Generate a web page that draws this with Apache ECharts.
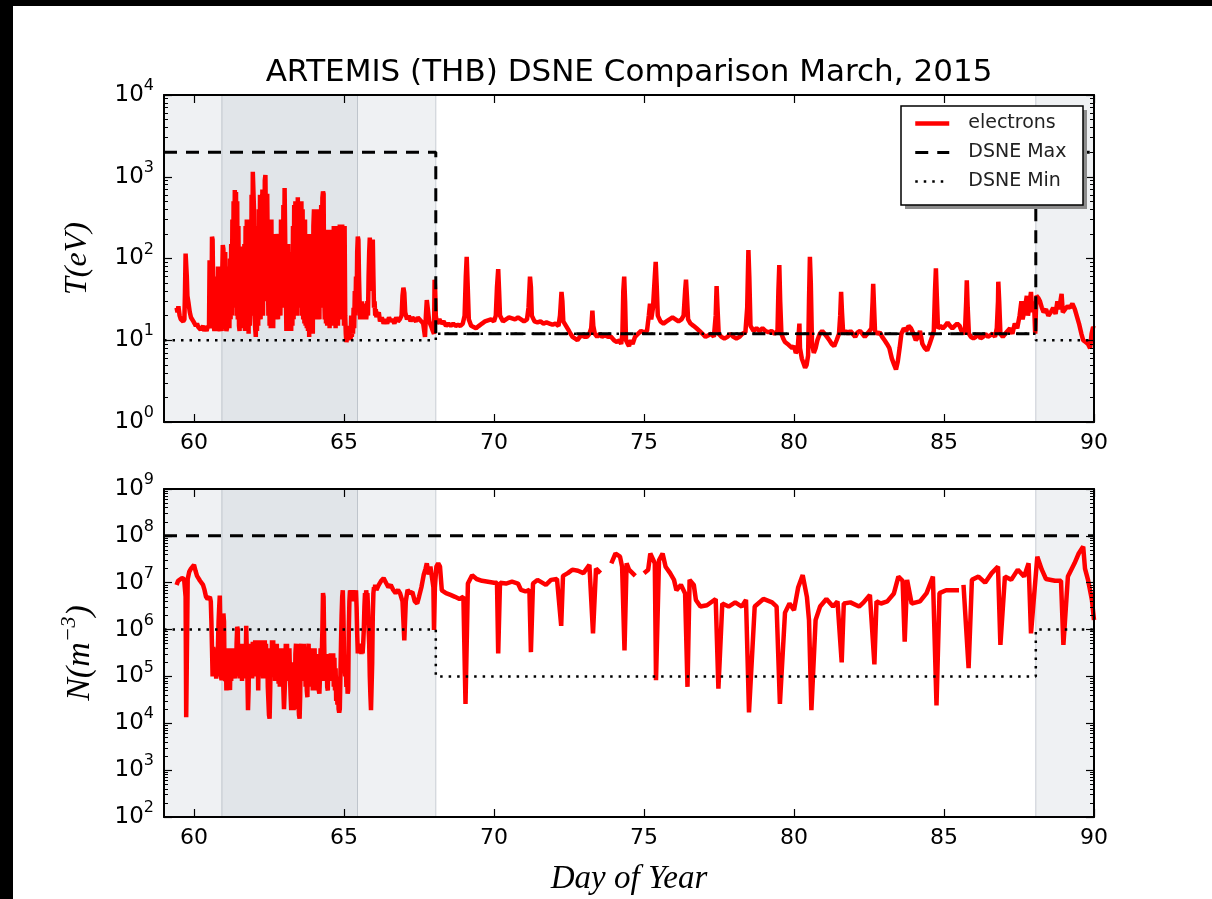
<!DOCTYPE html>
<html>
<head>
<meta charset="utf-8">
<script src="https://cdn.jsdelivr.net/npm/echarts@6/dist/echarts.min.js"></script>
<style>
html,body{margin:0;padding:0;background:#fff;}
#chart{width:1212px;height:899px;}
</style>
</head>
<body>
<div id="chart"></div>
<script>
// ---------- data ----------
const titleText = 'ARTEMIS (THB) DSNE Comparison March, 2015';
const xTicks = [60, 65, 70, 75, 80, 85, 90];
const xRange = [59, 90];
const tRange = [1, 1e4];
const nRange = [1e2, 1e9];
const minorMult = [2, 3, 4, 5, 6, 7, 8, 9];

// shaded intervals (day ranges)
const lightBands = [[59, 68.06], [88.06, 90]];
const darkBands = [[60.93, 65.45]];

// DSNE limits, temperature (eV)
const tMaxDay = [59, 68.06, 68.06, 88.06, 88.06, 90];
const tMaxVal = [2000, 2000, 12, 12, 2000, 2000];
const tMinDay = [59, 68.06, 68.06, 88.06, 88.06, 90];
const tMinVal = [10, 10, 12, 12, 10, 10];
// DSNE limits, density (m^-3)
const nMaxDay = [59, 90];
const nMaxVal = [1e8, 1e8];
const nMinDay = [59, 68.06, 68.06, 88.06, 88.06, 90];
const nMinVal = [1e6, 1e6, 1e5, 1e5, 1e6, 1e6];

// electron temperature [day, eV]
const electronT = [
[59.42,25],[59.45,22],[59.48,26],[59.52,20],[59.56,18],[59.60,19],[59.64,17],[59.68,18],[59.70,40],[59.72,115],
[59.74,110],[59.76,60],[59.78,35],[59.82,28],[59.86,22],[59.90,19],[59.94,18],[59.98,17],[60.02,16],[60.06,15],
[60.10,16],[60.14,14.5],[60.18,15],[60.22,13.5],[60.26,14],[60.30,15],[60.34,13],[60.38,14],[60.42,13],[60.46,15],
[60.50,14],[60.52,95],[60.54,90],[60.56,20],[60.58,14],[60.60,185],[60.62,170],[60.64,40],[60.66,15],[60.68,13],
[60.70,30],[60.72,14],[60.74,60],[60.76,15],[60.78,13],[60.80,80],[60.82,70],[60.84,14],[60.86,13],[60.88,20],
[60.90,14],[60.92,13],[60.94,60],[60.96,146],[60.98,130],[61.00,16],[61.02,100],[61.04,120],[61.06,15],[61.08,13],
[61.10,14],[61.12,60],[61.14,15],[61.16,80],[61.18,14],[61.20,100],[61.22,18],[61.24,150],[61.26,20],[61.28,300],
[61.30,25],[61.32,500],[61.34,30],[61.36,690],[61.38,200],[61.40,650],[61.42,20],[61.44,500],[61.46,18],[61.48,250],
[61.50,15],[61.52,13],[61.54,100],[61.56,14],[61.58,120],[61.60,18],[61.62,140],[61.64,130],[61.66,15],[61.68,150],
[61.70,13],[61.72,250],[61.74,16],[61.76,300],[61.78,14],[61.80,200],[61.82,12],[61.84,150],[61.86,15],[61.88,300],
[61.90,20],[61.92,600],[61.94,30],[61.96,1150],[61.98,1100],[62.00,400],[62.02,20],[62.04,14],[62.06,11],[62.08,100],
[62.10,13],[62.12,250],[62.14,15],[62.16,400],[62.18,20],[62.20,600],[62.22,18],[62.24,300],[62.26,25],[62.28,700],
[62.30,20],[62.32,500],[62.34,30],[62.36,900],[62.38,1050],[62.40,1000],[62.42,40],[62.44,620],[62.46,600],[62.48,20],
[62.50,300],[62.52,15],[62.54,250],[62.56,14],[62.58,300],[62.60,16],[62.62,200],[62.64,14],[62.66,150],[62.68,18],
[62.70,120],[62.72,18],[62.74,200],[62.76,20],[62.78,180],[62.80,18],[62.82,200],[62.84,25],[62.86,160],[62.88,20],
[62.90,300],[62.92,25],[62.94,300],[62.96,30],[62.98,450],[63.00,40],[63.02,730],[63.04,700],[63.06,40],[63.08,13],
[63.10,80],[63.12,13],[63.14,150],[63.16,14],[63.18,120],[63.20,13],[63.22,60],[63.24,13],[63.26,120],[63.28,15],
[63.30,250],[63.32,18],[63.34,450],[63.36,25],[63.38,500],[63.40,30],[63.42,350],[63.44,20],[63.46,560],[63.48,40],
[63.50,430],[63.52,25],[63.54,350],[63.56,30],[63.58,500],[63.60,20],[63.62,400],[63.64,18],[63.66,250],[63.68,16],
[63.70,300],[63.72,15],[63.74,200],[63.76,14],[63.78,150],[63.80,13],[63.82,100],[63.84,11],[63.86,200],[63.88,12],
[63.90,180],[63.92,13],[63.94,120],[63.96,12],[63.98,250],[64.00,400],[64.02,20],[64.04,300],[64.06,18],[64.08,300],
[64.10,25],[64.12,400],[64.14,20],[64.16,250],[64.18,18],[64.20,350],[64.22,25],[64.24,450],[64.26,40],[64.28,550],
[64.30,660],[64.32,620],[64.34,40],[64.36,18],[64.38,225],[64.40,16],[64.42,200],[64.44,15],[64.46,225],[64.48,18],
[64.50,220],[64.52,14],[64.54,180],[64.56,16],[64.58,225],[64.60,15],[64.62,200],[64.64,20],[64.66,250],[64.68,16],
[64.70,200],[64.72,14],[64.74,220],[64.76,18],[64.78,250],[64.80,15],[64.82,200],[64.84,20],[64.86,260],[64.88,25],
[64.90,250],[64.92,18],[64.94,260],[64.96,22],[64.98,240],[65.00,15],[65.02,250],[65.04,20],[65.06,12],[65.08,9.5],
[65.10,9.3],[65.12,12],[65.14,10],[65.16,15],[65.18,11],[65.20,13],[65.22,10],[65.24,20],[65.26,11],[65.28,14],
[65.30,12],[65.32,25],[65.34,14],[65.36,40],[65.38,20],[65.40,60],[65.42,25],[65.44,120],[65.46,185],[65.48,170],
[65.50,60],[65.52,30],[65.54,18],[65.56,25],[65.58,20],[65.60,30],[65.62,18],[65.64,25],[65.66,20],[65.68,28],
[65.70,19],[65.72,24],[65.74,18],[65.76,22],[65.78,30],[65.80,20],[65.82,60],[65.84,120],[65.86,180],[65.88,100],
[65.90,160],[65.92,40],[65.94,150],[65.96,170],[65.98,60],[66.00,25],[66.02,30],[66.04,20],[66.06,24],[66.08,19],
[66.10,22],[66.12,20],[66.16,22],[66.20,17],[66.26,19],[66.32,16],[66.38,18],[66.44,16],[66.50,19],[66.56,17],
[66.62,18],[66.68,16],[66.74,19],[66.80,17],[66.86,18],[66.92,20],[66.95,35],[66.98,44],[67.01,38],[67.04,22],
[67.10,18],[67.16,20],[67.22,17],[67.28,19],[67.34,18],[67.40,17],[67.46,19],[67.52,18],[67.58,17],[67.64,16],
[67.70,11],[67.73,20],[67.76,31],[67.79,25],[67.84,17],[67.90,15],[67.96,13],[68.00,12],[68.02,55],[68.04,40],
[68.06,20],[68.10,16],[68.14,17],[68.18,18],[68.25,16],[68.32,17],[68.40,15],[68.48,16],[68.56,15],[68.64,16],
[68.72,15],[68.80,15.5],[68.88,15],[68.96,16],[69.02,20],[69.06,60],[69.09,105],[69.12,50],[69.16,18],[69.24,15],
[69.32,14.5],[69.40,14],[69.50,15],[69.60,16],[69.70,17],[69.80,17.5],[69.90,18],[70.00,17],[70.06,20],[70.10,45],
[70.14,74],[70.17,40],[70.20,20],[70.30,17],[70.40,18],[70.50,19],[70.60,18.5],[70.70,18],[70.80,19],[70.90,18],
[71.00,17],[71.10,18],[71.15,25],[71.20,60],[71.23,45],[71.26,20],[71.35,17],[71.45,16.5],[71.55,17],[71.65,16],
[71.75,16.5],[71.85,16],[71.95,15.5],[72.05,16],[72.15,15],[72.20,20],[72.25,39],[72.28,30],[72.31,17],[72.40,15],
[72.50,13],[72.55,12],[72.62,11],[72.70,10.5],[72.78,10],[72.86,11],[72.94,11.5],[73.02,11],[73.10,11],[73.18,12],
[73.24,14],[73.28,23],[73.31,15],[73.36,12],[73.44,11],[73.52,12],[73.60,11],[73.70,11.5],[73.80,11],[73.90,11],
[74.00,10],[74.10,9.5],[74.18,10],[74.24,9],[74.28,12],[74.31,40],[74.34,60],[74.37,30],[74.40,10],[74.46,9],
[74.50,8.5],[74.56,10],[74.62,9],[74.70,11],[74.80,12],[74.90,13],[75.00,12.5],[75.10,13],[75.16,20],[75.20,28],
[75.24,18],[75.30,25],[75.36,60],[75.39,91],[75.42,50],[75.46,20],[75.55,17],[75.65,16],[75.75,17],[75.85,18],
[75.95,19],[76.05,18],[76.15,17],[76.25,18],[76.32,20],[76.37,40],[76.40,55],[76.43,35],[76.47,18],[76.55,16],
[76.65,15],[76.75,14],[76.85,13],[76.95,12],[77.05,11],[77.15,11.5],[77.25,12],[77.33,11],[77.39,20],[77.42,46],
[77.45,25],[77.49,12],[77.58,11],[77.68,10.5],[77.78,11],[77.88,12],[77.98,11],[78.08,10.5],[78.18,11],[78.28,12],
[78.38,12.5],[78.44,25],[78.48,127],[78.51,60],[78.55,15],[78.65,13],[78.75,14],[78.85,13],[78.95,14],[79.05,13],
[79.15,12.5],[79.25,13],[79.35,12],[79.45,13],[79.48,40],[79.51,83],[79.54,30],[79.58,12],[79.64,10.5],[79.70,9.5],
[79.76,10],[79.82,8.8],[79.88,9],[79.94,8],[80.00,8.5],[80.06,7],[80.12,7.5],[80.18,16],[80.20,8],[80.26,6],
[80.32,5.2],[80.37,4.6],[80.42,5],[80.47,6.5],[80.50,30],[80.53,105],[80.56,50],[80.60,9],[80.66,7],[80.72,8],
[80.78,10],[80.86,12],[80.94,13],[81.02,12],[81.10,11],[81.18,10],[81.26,9],[81.34,8.5],[81.42,10],[81.50,12],
[81.54,20],[81.57,39],[81.60,22],[81.64,12],[81.72,13],[81.80,12],[81.88,13],[81.96,12],[82.04,11],[82.12,12.5],
[82.20,13],[82.28,12],[82.36,11],[82.44,12],[82.52,13],[82.58,14],[82.62,30],[82.64,49],[82.67,25],[82.70,13],
[82.78,12],[82.86,12.5],[82.94,11],[83.02,10],[83.10,9],[83.18,8],[83.26,6],[83.34,5],[83.40,4.4],[83.46,5.5],
[83.52,8],[83.58,12],[83.66,14],[83.74,13],[83.82,15],[83.90,14],[83.98,12],[84.06,10],[84.14,11],[84.20,13],
[84.28,9],[84.36,8],[84.44,7.5],[84.52,9],[84.60,11],[84.66,13],[84.70,40],[84.73,76],[84.76,35],[84.80,14],
[84.88,15],[84.96,14],[85.04,15],[85.12,16.5],[85.20,15],[85.28,14],[85.36,15],[85.44,16],[85.52,15],[85.62,12],
[85.70,13],[85.74,30],[85.76,54],[85.79,25],[85.83,12],[85.90,11],[85.98,10.5],[86.06,11],[86.14,12],[86.22,10.5],
[86.30,11],[86.38,12],[86.46,11],[86.54,11.5],[86.62,12],[86.70,11],[86.76,14],[86.80,30],[86.81,52],[86.84,30],
[86.88,12],[86.96,11],[87.04,12],[87.12,13],[87.20,14],[87.28,12],[87.36,16],[87.44,14],[87.52,20],[87.58,30],
[87.62,18],[87.70,25],[87.76,35],[87.80,20],[87.86,30],[87.90,39],[87.94,22],[88.00,30],[88.04,12],[88.08,35],
[88.14,33],[88.20,30],[88.26,25],[88.32,22],[88.40,24],[88.48,20],[88.56,22],[88.64,25],[88.72,21],[88.78,30],
[88.84,24],[88.92,37],[88.96,22],[89.04,24],[89.12,26],[89.20,25],[89.28,28],[89.36,24],[89.42,23],[89.50,16],
[89.58,12],[89.64,10],[89.72,9.5],[89.80,9],[89.87,8],[89.92,12],[89.97,14.5],[90.00,14]
];

// electron density [day, m^-3]
const electronN = [
[59.42,8.9e6],[59.47,1.1e7],[59.53,1.2e7],[59.60,1.25e7],[59.67,1.2e7],[59.72,5e6],[59.74,1.35e4],[59.76,2e5],[59.79,1.2e7],[59.84,1.7e7],
[59.90,2e7],[59.95,2.2e7],[60.00,2.4e7],[60.05,1.8e7],[60.10,1.4e7],[60.15,1.35e7],[60.20,1.1e7],[60.25,1.2e7],[60.30,9e6],[60.35,7e6],
[60.40,5e6],[60.45,4.5e6],[60.50,4.3e6],[60.53,5e6],[60.56,4e6],[60.58,1.5e6],[60.60,4e5],[60.62,1e5],[60.64,4.3e5],[60.66,1e5],
[60.68,4e5],[60.70,1e5],[60.72,3e5],[60.74,9e4],[60.76,3e5],[60.78,1e5],[60.80,5e5],[60.82,1.5e6],[60.84,3e6],[60.86,5.3e6],
[60.88,1e6],[60.90,1e5],[60.92,8.3e4],[60.94,5e5],[60.96,1e6],[60.98,2.2e6],[61.00,1.5e6],[61.02,1e5],[61.04,8e4],[61.06,4e5],
[61.08,5e4],[61.10,3e5],[61.12,5.1e4],[61.14,3e5],[61.16,6e4],[61.18,4e5],[61.20,5.1e4],[61.22,3e5],[61.24,8e4],[61.26,4e5],
[61.28,1e5],[61.30,4e5],[61.32,1e5],[61.34,3e5],[61.36,9e4],[61.38,4e5],[61.40,1e5],[61.42,5e5],[61.44,1.15e6],[61.46,1e6],
[61.48,1e5],[61.50,4e5],[61.52,9e4],[61.54,5e5],[61.56,1e5],[61.58,4e5],[61.60,8e4],[61.62,5e5],[61.64,1e5],[61.66,4e5],
[61.68,9e4],[61.70,5e5],[61.72,1e5],[61.74,1.2e6],[61.76,1.1e6],[61.78,1e5],[61.80,1.9e4],[61.82,5e4],[61.84,4e5],[61.86,1e5],
[61.88,5e5],[61.90,1e5],[61.92,5e5],[61.94,9e4],[61.96,5.5e5],[61.98,1e5],[62.00,5.5e5],[62.02,1e5],[62.04,5.9e5],[62.06,1.2e5],
[62.08,5.5e5],[62.10,1e5],[62.12,5.9e5],[62.14,5e4],[62.16,5e5],[62.18,1e5],[62.20,5.5e5],[62.22,1.2e5],[62.24,5.9e5],[62.26,1e5],
[62.28,5.5e5],[62.30,9e4],[62.32,5.5e5],[62.34,1e5],[62.36,5.9e5],[62.38,9e4],[62.40,5e5],[62.42,1e5],[62.44,4e5],[62.46,6e4],
[62.48,3e4],[62.50,1.5e4],[62.52,1.26e4],[62.54,5e4],[62.56,4e5],[62.58,1e5],[62.60,5.9e5],[62.62,1e5],[62.64,5.9e5],[62.66,1e5],
[62.68,5e5],[62.70,8e4],[62.72,5e5],[62.74,9e4],[62.76,5e5],[62.78,8e4],[62.80,4e5],[62.82,7e4],[62.84,4e5],[62.86,6e4],
[62.88,4e5],[62.90,8e4],[62.92,4e5],[62.94,1e5],[62.96,3e5],[62.98,5e4],[63.00,2e4],[63.02,1.9e4],[63.04,1e5],[63.06,5e5],
[63.08,1e5],[63.10,5e5],[63.12,9e4],[63.14,4e5],[63.16,8e4],[63.18,4e5],[63.20,1e5],[63.22,4e4],[63.24,1.9e4],[63.26,1e5],
[63.28,2e4],[63.30,2e5],[63.32,1.9e4],[63.34,1e5],[63.36,2e4],[63.38,3e5],[63.40,5e5],[63.42,1e5],[63.44,5e5],[63.46,6e4],
[63.48,3e4],[63.50,1.5e4],[63.52,1.26e4],[63.54,4e4],[63.56,4e5],[63.58,5e5],[63.60,1e5],[63.62,5e5],[63.64,1e5],[63.66,5e5],
[63.68,8e4],[63.70,4e5],[63.72,6e4],[63.74,4e5],[63.76,5e4],[63.78,3.6e4],[63.80,3e5],[63.82,5e5],[63.84,8e4],[63.86,4e5],
[63.88,6e4],[63.90,4e5],[63.92,8e4],[63.94,4e5],[63.96,5e4],[63.98,4e5],[64.00,8e4],[64.02,4e5],[64.04,6e4],[64.06,3e5],
[64.08,5e4],[64.10,3e5],[64.12,5e4],[64.14,2e5],[64.16,5e4],[64.18,4.3e4],[64.20,1e5],[64.22,4e5],[64.24,8e4],[64.26,3e5],
[64.28,1e6],[64.30,6e6],[64.32,5e6],[64.34,5e5],[64.36,8e4],[64.38,3e5],[64.40,8e4],[64.42,3e5],[64.44,6e4],[64.46,5e4],
[64.48,2.5e5],[64.50,8e4],[64.52,3e5],[64.54,8e4],[64.56,3.1e5],[64.58,1e5],[64.60,3.1e5],[64.62,8e4],[64.64,3.1e5],[64.66,6e4],
[64.68,2.5e5],[64.70,5e4],[64.72,1.5e5],[64.74,3e4],[64.76,1e5],[64.78,2.5e4],[64.80,8e4],[64.82,2e4],[64.84,1.7e4],[64.86,2e4],
[64.88,1e5],[64.90,5e5],[64.92,2e6],[64.94,5e6],[64.96,6.9e6],[64.98,2e6],[65.00,3e5],[65.02,1.6e5],[65.04,1e5],[65.06,2e5],
[65.08,6e4],[65.10,1.5e5],[65.12,4.3e4],[65.14,5e4],[65.16,1e6],[65.18,4e6],[65.20,6.9e6],[65.22,5e6],[65.24,6.9e6],[65.26,4e6],
[65.28,6.9e6],[65.30,5e6],[65.32,6.9e6],[65.34,4e6],[65.36,6.5e6],[65.38,5e6],[65.40,6.9e6],[65.42,3e6],[65.44,8e5],[65.46,3.1e5],
[65.48,5e5],[65.50,3.1e5],[65.52,4e5],[65.54,3.1e5],[65.56,5e5],[65.58,3e5],[65.60,4e5],[65.62,3.1e5],[65.64,5e5],[65.66,1e6],
[65.68,3e6],[65.70,6e6],[65.72,4e6],[65.74,6.9e6],[65.76,5e6],[65.78,6e6],[65.80,3e6],[65.82,1e6],[65.84,5e5],[65.86,1e5],
[65.88,4e4],[65.90,1.9e4],[65.92,2e4],[65.94,2e5],[65.96,2e6],[65.98,6e6],[66.00,8e6],[66.02,7e6],[66.04,9e6],[66.08,7e6],
[66.16,9e6],[66.24,1.1e7],[66.32,1.25e7],[66.40,1e7],[66.48,8e6],[66.56,9e6],[66.64,7e6],[66.72,6e6],[66.80,7e6],[66.87,5.9e6],
[66.95,4e6],[67.01,5.9e5],[67.06,4e6],[67.12,7e6],[67.20,6e6],[67.28,6.3e6],[67.36,4e6],[67.44,3.6e6],[67.50,5e6],[67.58,8e6],
[67.66,1.5e7],[67.72,2e7],[67.76,2.6e7],[67.82,1.5e7],[67.88,2.2e7],[67.94,1.2e7],[67.98,8e6],[68.00,9.8e5],[68.03,8e6],[68.08,2.2e7],
[68.14,2.6e7],[68.20,2.2e7],[68.26,6.9e6],[68.40,6e6],[68.55,5.5e6],[68.70,5e6],[68.85,4.5e6],[68.98,5e6],[69.05,2.6e4],[69.13,9.6e6],
[69.27,1.45e7],[69.42,1.2e7],[69.60,1.1e7],[69.80,1.05e7],[70.00,1e7],[70.10,1e7],[70.14,3.1e5],[70.20,1e7],[70.40,9.6e6],[70.60,1.05e7],
[70.80,9.6e6],[70.90,7e6],[71.05,6.5e6],[71.18,7e6],[71.23,3.3e5],[71.30,9.6e6],[71.45,1.15e7],[71.73,9e6],[71.90,1.15e7],[72.10,1.2e7],
[72.24,1.2e6],[72.30,1.4e7],[72.46,1.6e7],[72.61,1.9e7],[72.80,1.8e7],[72.98,1.6e7],[73.18,2.4e7],[73.30,8.3e5],[73.40,2e7],[73.55,1.6e7],
[73.70,null],[73.91,2.6e7],[74.05,4.2e7],[74.20,3.6e7],[74.27,2.2e7],[74.35,3.6e5],[74.42,2.6e7],[74.50,1.9e7],[74.71,1.4e7],[74.85,null],
[75.00,1.6e7],[75.14,1.9e7],[75.21,4.2e7],[75.36,2.6e7],[75.40,8.3e4],[75.50,3e7],[75.62,4.2e7],[75.72,2.2e7],[75.87,1.6e7],[76.00,1.15e7],
[76.08,6.9e6],[76.23,9e6],[76.37,5.9e6],[76.45,6e4],[76.52,1.15e7],[76.66,9e6],[76.73,4.3e6],[76.88,3.1e6],[77.10,3.3e6],[77.39,4.5e6],
[77.48,5.5e4],[77.61,3.6e6],[77.82,3.1e6],[78.04,3.8e6],[78.26,3.1e6],[78.40,4.3e6],[78.50,1.7e4],[78.69,3.1e6],[78.98,4.5e6],[79.27,3.8e6],
[79.42,3.1e6],[79.53,2.6e4],[79.70,2.3e6],[79.85,3.6e6],[80.00,2.6e6],[80.14,8e6],[80.29,1.45e7],[80.43,5e6],[80.50,1.6e6],[80.58,1.9e4],
[80.72,1.6e6],[80.87,3.1e6],[81.08,4.5e6],[81.30,3.1e6],[81.45,4e6],[81.59,2e5],[81.66,3.6e6],[81.88,3.8e6],[82.17,3.1e6],[82.32,3.8e6],
[82.53,5.5e6],[82.68,1.8e5],[82.75,4e6],[82.90,3.6e6],[83.11,4e6],[83.33,5.9e6],[83.48,1.35e7],[83.62,1.1e7],[83.69,5.5e5],[83.77,1.15e7],
[83.92,3.6e6],[84.20,4e6],[84.42,6e6],[84.63,1.35e7],[84.75,2.4e4],[84.85,6e6],[85.07,6.9e6],[85.50,6.9e6],[85.58,null],
[85.65,9e6],[85.82,1.5e5],[85.93,1.15e7],[86.15,1.35e7],[86.37,1e7],[86.59,1.6e7],[86.80,2.2e7],[86.88,4.7e5],[87.03,1.35e7],[87.24,1.15e7],
[87.46,1.9e7],[87.67,1.35e7],[87.82,2.6e7],[87.90,8.3e5],[88.11,3.6e7],[88.26,1.9e7],[88.40,1.2e7],[88.70,1.1e7],[88.90,1.1e7],[88.98,4.7e5],
[89.13,1.35e7],[89.35,2.6e7],[89.49,4.2e7],[89.64,5.9e7],[89.70,2e7],[89.80,1.15e7],[89.93,4.3e6],[90.00,1.6e6]
];

// ---------- helpers ----------
const zip = (xs, ys) => xs.map((x, i) => [x, ys[i]]);
const FONT = 'DejaVu Sans';
const MATH = 'Liberation Serif';

function minorValues(range) {
  const out = [];
  for (let d = range[0]; d < range[1]; d *= 10) minorMult.forEach(m => out.push(m * d));
  return out;
}

function bandAreas() {
  const light = lightBands.map(b => [{xAxis: b[0], itemStyle: {color: '#eff1f3', borderColor: '#c9ced4', borderWidth: 1}}, {xAxis: b[1]}]);
  const dark = darkBands.map(b => [{xAxis: b[0], itemStyle: {color: '#e1e5e9', borderColor: '#bfc5cc', borderWidth: 1}}, {xAxis: b[1]}]);
  return light.concat(dark);
}

const supLabel = {
  formatter: v => '{b|10}{s|' + Math.round(Math.log10(v)) + '}',
  margin: 10,
  rich: {
    b: {fontFamily: FONT, fontSize: 23, lineHeight: 34, color: '#000'},
    s: {fontFamily: FONT, fontSize: 16, lineHeight: 16, verticalAlign: 'top', color: '#000'}
  }
};

function xAxisPair(gridIndex, withName) {
  const base = {
    type: 'value', gridIndex, min: xRange[0], max: xRange[1], z: 10,
    axisLine: {show: true, onZero: false, lineStyle: {color: '#000', width: 2}},
    axisTick: {show: true, inside: true, length: 8, customValues: xTicks, lineStyle: {color: '#000', width: 1.2}},
    splitLine: {show: false}
  };
  const bottom = Object.assign({}, base, {
    position: 'bottom',
    axisLabel: {show: true, customValues: xTicks, fontFamily: FONT, fontSize: 22, color: '#000', margin: 10}
  });
  if (withName) {
    Object.assign(bottom, {
      name: 'Day of Year', nameLocation: 'middle', nameGap: 46,
      nameTextStyle: {fontFamily: MATH, fontStyle: 'italic', fontSize: 33, color: '#000'}
    });
  }
  const top = Object.assign({}, base, {position: 'top', axisLabel: {show: false}});
  return [bottom, top];
}

function yAxes(gridIndex, range, name, nameGap, nameStyle) {
  const base = {
    type: 'log', logBase: 10, gridIndex, min: range[0], max: range[1], z: 10,
    axisLine: {show: true, onZero: false, lineStyle: {color: '#000', width: 2}},
    axisTick: {show: true, inside: true, length: 8, lineStyle: {color: '#000', width: 1.2}},
    minorTick: {show: false},
    splitLine: {show: false}, minorSplitLine: {show: false}
  };
  const left = Object.assign({}, base, {
    position: 'left', axisLabel: supLabel,
    name, nameLocation: 'middle', nameGap, nameTextStyle: nameStyle
  });
  const right = Object.assign({}, base, {position: 'right', axisLabel: {show: false}});
  const minorBase = Object.assign({}, base, {
    axisLine: {show: false}, axisLabel: {show: false},
    axisTick: {show: true, inside: true, length: 4, customValues: minorValues(range), lineStyle: {color: '#000', width: 1}}
  });
  const minorLeft = Object.assign({}, minorBase, {position: 'left'});
  const minorRight = Object.assign({}, minorBase, {position: 'right'});
  return [left, right, minorLeft, minorRight];
}

const nameStyleT = {fontFamily: MATH, fontStyle: 'italic', fontSize: 32, color: '#000'};
const nameStyleN = {
  color: '#000',
  rich: {
    i: {fontFamily: MATH, fontStyle: 'italic', fontSize: 34, lineHeight: 44, color: '#000'},
    s: {fontFamily: MATH, fontStyle: 'italic', fontSize: 22, lineHeight: 22, verticalAlign: 'top', color: '#000'}
  }
};

const chart = echarts.init(document.getElementById('chart'), null, {renderer: 'canvas'});

const redLine = {color: '#ff0000', width: 4.5};
const maxLine = {color: '#000', width: 3, type: [13, 9]};
const minLine = {color: '#000', width: 2.5, type: [2.5, 6]};

function panelSeries(xi, yi, elec, maxD, maxV, minD, minV) {
  return [
    {type: 'line', name: 'bands', xAxisIndex: xi, yAxisIndex: yi, data: [], silent: true,
     markArea: {silent: true, data: bandAreas()}},
    {type: 'line', name: 'electrons', xAxisIndex: xi, yAxisIndex: yi, data: elec, showSymbol: false, symbol: 'none',
     lineStyle: redLine, itemStyle: {color: '#ff0000'}, z: 3},
    {type: 'line', name: 'DSNE Max', xAxisIndex: xi, yAxisIndex: yi, data: zip(maxD, maxV), symbol: 'none',
     lineStyle: maxLine, itemStyle: {color: '#000'}, z: 4},
    {type: 'line', name: 'DSNE Min', xAxisIndex: xi, yAxisIndex: yi, data: zip(minD, minV), symbol: 'none',
     lineStyle: minLine, itemStyle: {color: '#000'}, z: 4}
  ];
}

const xa0 = xAxisPair(0, false), xa1 = xAxisPair(1, true);
const ya0 = yAxes(0, tRange, 'T(eV)', 70, nameStyleT);
const ya1 = yAxes(1, nRange, '{i|N(m}{s|−3}{i|)}', 62, nameStyleN);

// legend frame (box + shadow)
const LG = {x: 901, y: 106, w: 182, h: 99};

chart.setOption({
  animation: false,
  backgroundColor: '#ffffff',
  title: {
    text: titleText, left: 624, top: 52, textAlign: 'center',
    textStyle: {fontFamily: FONT, fontSize: 31, fontWeight: 'normal', color: '#000'}
  },
  legend: {
    data: ['electrons', 'DSNE Max', 'DSNE Min'],
    orient: 'vertical', left: LG.x, top: LG.y,
    padding: [8, 12, 8, 12], itemGap: 10, itemWidth: 34, itemHeight: 20,
    itemStyle: {opacity: 0, borderWidth: 0},
    lineStyle: {width: 'inherit'},
    textStyle: {fontFamily: FONT, fontSize: 19, color: '#222', padding: [0, 0, 0, 14]},
    selectedMode: false, z: 30
  },
  grid: [
    {left: 164, top: 95, width: 930, height: 327},
    {left: 164, top: 489, width: 930, height: 328}
  ],
  xAxis: [xa0[0], xa0[1], xa1[0], xa1[1]],
  yAxis: ya0.concat(ya1),
  series: panelSeries(0, 0, electronT, tMaxDay, tMaxVal, tMinDay, tMinVal)
    .concat(panelSeries(2, 4, electronN, nMaxDay, nMaxVal, nMinDay, nMinVal)),
  graphic: [
    {type: 'rect', left: 0, top: 0, shape: {width: 13, height: 899}, style: {fill: '#000'}, z: 100},
    {type: 'rect', left: 0, top: 0, shape: {width: 1212, height: 6}, style: {fill: '#000'}, z: 100},
    {type: 'rect', x: LG.x + 4, y: LG.y + 4, shape: {width: LG.w, height: LG.h}, style: {fill: '#8c8c8c'}, z: 25},
    {type: 'rect', x: LG.x, y: LG.y, shape: {width: LG.w, height: LG.h}, style: {fill: '#ffffff', stroke: '#000', lineWidth: 1.5}, z: 26}
  ]
});
</script>
</body>
</html>
